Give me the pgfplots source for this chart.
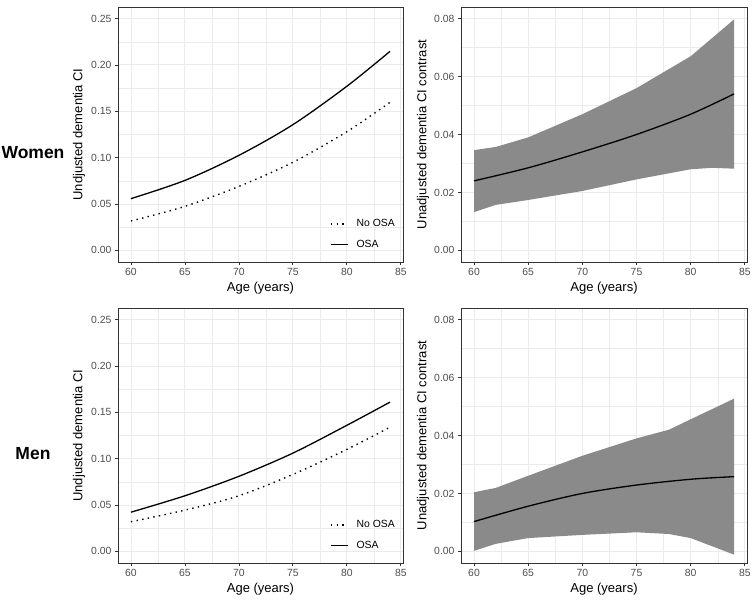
\documentclass[border=0pt]{standalone}
\usepackage{fontspec}
\setmainfont{Liberation Sans}
\usepackage{pgfplots}
\pgfplotsset{compat=1.18}
\definecolor{gridmaj}{HTML}{EBEBEB}
\definecolor{bordercol}{HTML}{333333}
\definecolor{ticklab}{HTML}{4D4D4D}
\definecolor{bandcol}{HTML}{8A8A8A}
\pgfplotsset{
  ggbase/.style={
    scale only axis, height=255pt,
    xmin=58.8, xmax=85.2, xtick={60,65,...,85},
    minor x tick num=1, minor y tick num=1,
    grid=both,
    major grid style={gridmaj, line width=0.9pt},
    minor grid style={gridmaj, line width=0.45pt},
    axis line style={bordercol, line width=0.8pt},
    tick pos=left, tick align=outside,
    major tick length=3pt, minor tick length=0pt,
    every tick/.style={bordercol, line width=0.8pt},
    tick label style={font=\fontsize{10.4}{12}\selectfont, text=ticklab},
    /pgf/number format/assume math mode=true,
    scaled y ticks=false,
    label style={font=\fontsize{13}{15}\selectfont},
    xlabel={Age (years)},
    xlabel style={at={(axis description cs:0.5,-0.102)}, anchor=center},
    y tick label style={/pgf/number format/fixed, /pgf/number format/fixed zerofill, /pgf/number format/precision=2},
  },
  leftp/.style={ggbase, width=285pt,
    ymin=-0.0125, ymax=0.2625, ytick={0,0.05,...,0.25},
    ylabel={Undjusted dementia CI},
    ylabel style={at={(axis description cs:-0.137,0.5)}, anchor=center},
    legend cell align=left,
    legend style={draw=none, fill=none, font=\fontsize{10.4}{12}\selectfont,
      at={(axis description cs:0.744,0.175)}, anchor=north west, row sep=8pt,
      inner sep=0pt, /tikz/every odd column/.append style={column sep=6pt}},
    legend image code/.code={\draw[##1] (0pt,0pt) -- (17pt,0pt);},
  },
  rightp/.style={ggbase, width=286pt,
    ymin=-0.004, ymax=0.084, ytick={0,0.02,...,0.081},
    ylabel={Unadjusted dementia CI contrast},
    ylabel style={at={(axis description cs:-0.133,0.5)}, anchor=center},
  },
  noosa/.style={black, line width=1.4pt, dash pattern=on 1.4pt off 4.3pt, smooth},
  osa/.style={black, line width=1.3pt, smooth},
}
\begin{document}
\begin{tikzpicture}[x=1pt,y=1pt]
\path[use as bounding box] (0,0) rectangle (754,604);
% Women, left
\begin{axis}[leftp, at={(118pt,342pt)}, anchor=south west]
\addplot[noosa] coordinates {(60,0.0317)(65,0.0475)(70,0.069)(75,0.095)(80,0.128)(84,0.1597)};
\addlegendentry{No OSA}
\addplot[osa] coordinates {(60,0.0558)(65,0.0755)(70,0.1025)(75,0.1356)(80,0.177)(84,0.2147)};
\addlegendentry{OSA}
\end{axis}
% Women, right
\begin{axis}[rightp, at={(461pt,342pt)}, anchor=south west]
\addplot[fill=bandcol, draw=none] coordinates {(60,0.0346)(62,0.0357)(65,0.039)(70,0.047)(75,0.056)(80,0.067)(84,0.0797)
  (84,0.0282)(82,0.0285)(80,0.028)(75,0.0245)(70,0.0205)(65,0.0174)(62,0.0157)(60,0.0132)} -- cycle;
\addplot[osa] coordinates {(60,0.024)(65,0.0285)(70,0.034)(75,0.040)(80,0.047)(84,0.054)};
\end{axis}
% Men, left
\begin{axis}[leftp, at={(118pt,41pt)}, anchor=south west]
\addplot[noosa] coordinates {(60,0.032)(65,0.0445)(70,0.060)(75,0.083)(80,0.110)(84,0.134)};
\addlegendentry{No OSA}
\addplot[osa] coordinates {(60,0.0423)(65,0.060)(70,0.081)(75,0.106)(80,0.136)(84,0.161)};
\addlegendentry{OSA}
\end{axis}
% Men, right
\begin{axis}[rightp, at={(461pt,41pt)}, anchor=south west]
\addplot[fill=bandcol, draw=none] coordinates {(60,0.0204)(62,0.0219)(65,0.0261)(70,0.033)(75,0.039)(78,0.042)(80,0.0456)(84,0.0527)
  (84,-0.0011)(80,0.0046)(78,0.006)(75,0.0066)(70,0.0057)(65,0.0046)(62,0.0026)(60,0.0002)} -- cycle;
\addplot[osa] coordinates {(60,0.0103)(65,0.0156)(70,0.020)(75,0.0229)(80,0.0249)(84,0.0258)};
\end{axis}
\node[font=\bfseries\fontsize{17.5}{20}\selectfont] at (33,451) {Women};
\node[font=\bfseries\fontsize{17.5}{20}\selectfont] at (33,150) {Men};
\end{tikzpicture}
\end{document}
